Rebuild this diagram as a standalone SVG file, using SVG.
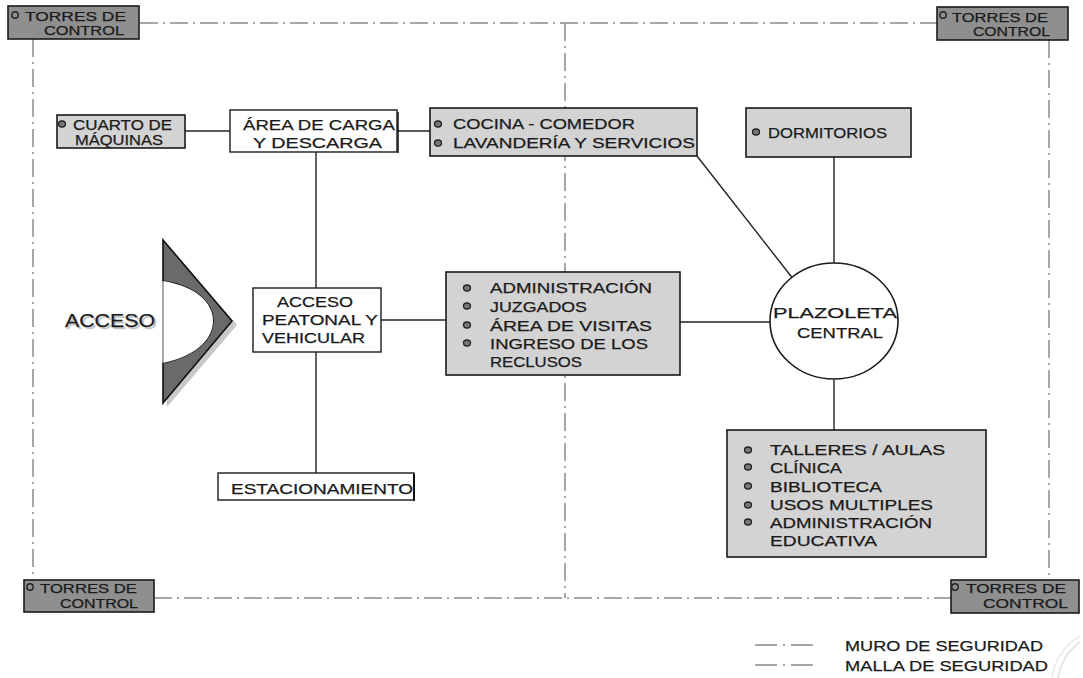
<svg xmlns="http://www.w3.org/2000/svg" width="1083" height="678" viewBox="0 0 1083 678">
  <defs>
    <style>
      text { font-family: "Liberation Sans", Arial, sans-serif; fill: #1a1a1a; stroke: #1a1a1a; stroke-width: 0.25; }
      .t16 { font-size: 15.5px; }
      .t14 { font-size: 14.5px; }
      .tw { font-size: 12.5px; }
      .box { fill: #d3d3d3; stroke: #1a1a1a; stroke-width: 1.6; }
      .wbox { fill: #ffffff; stroke: #1a1a1a; stroke-width: 1.4; }
      .tower { fill: #8f8f8f; stroke: #1a1a1a; stroke-width: 1.6; }
      .bul { fill: #777; stroke: #222; stroke-width: 1.3; }
      .tbul { fill: none; stroke: #222; stroke-width: 1.4; }
      .link { stroke: #222; stroke-width: 1.4; fill: none; }
      .wall { stroke: #8a8a8a; stroke-width: 1.5; fill: none; stroke-dasharray: 18 5 2 5; }
      .key { stroke: #888; stroke-width: 1.3; stroke-dasharray: 22 6 2 6 22; }
    </style>
  </defs>

  <rect width="1083" height="678" fill="#ffffff"/>

  <!-- security perimeter and central division -->
  <g id="perimeter">
    <line class="wall" x1="140" y1="23" x2="937" y2="23"/>
    <line class="wall" x1="33" y1="39" x2="33" y2="580"/>
    <line class="wall" x1="1049" y1="40" x2="1049" y2="580"/>
    <line class="wall" x1="154" y1="598" x2="951" y2="598"/>
    <line class="wall" x1="565" y1="23" x2="565" y2="598"/>
  </g>

  <!-- connectors -->
  <g id="connectors">
    <line class="link" x1="185" y1="131" x2="230" y2="131"/>
    <line class="link" x1="397" y1="131" x2="430" y2="131"/>
    <line class="link" x1="316" y1="152" x2="316" y2="288"/>
    <line class="link" x1="316" y1="352" x2="316" y2="473"/>
    <line class="link" x1="381" y1="320" x2="446" y2="320"/>
    <line class="link" x1="680" y1="322" x2="770" y2="322"/>
    <line class="link" x1="697" y1="156" x2="794" y2="280"/>
    <line class="link" x1="834" y1="157" x2="834" y2="263"/>
    <line class="link" x1="834" y1="380" x2="834" y2="430"/>
  </g>

  <!-- watch towers -->
  <g id="torre-no">
    <rect class="tower" x="8" y="6" width="131" height="33"/>
    <circle class="tbul" cx="15" cy="15" r="3.2"/>
    <text class="tw" x="25" y="21" textLength="101" lengthAdjust="spacingAndGlyphs">TORRES DE</text>
    <text class="tw" x="44" y="35" textLength="80" lengthAdjust="spacingAndGlyphs">CONTROL</text>
  </g>
  <g id="torre-ne">
    <rect class="tower" x="937" y="7" width="131" height="33"/>
    <circle class="tbul" cx="943" cy="15" r="3.2"/>
    <text class="tw" x="952" y="22" textLength="96" lengthAdjust="spacingAndGlyphs">TORRES DE</text>
    <text class="tw" x="973" y="36" textLength="77" lengthAdjust="spacingAndGlyphs">CONTROL</text>
  </g>
  <g id="torre-so">
    <rect class="tower" x="24" y="580" width="130" height="32"/>
    <circle class="tbul" cx="30" cy="587" r="3.2"/>
    <text class="tw" x="40" y="593" textLength="97" lengthAdjust="spacingAndGlyphs">TORRES DE</text>
    <text class="tw" x="60" y="608" textLength="78" lengthAdjust="spacingAndGlyphs">CONTROL</text>
  </g>
  <g id="torre-se">
    <rect class="tower" x="951" y="580" width="128" height="33"/>
    <circle class="tbul" cx="955" cy="587" r="3.2"/>
    <text class="tw" x="966" y="593" textLength="100" lengthAdjust="spacingAndGlyphs">TORRES DE</text>
    <text class="tw" x="983" y="608" textLength="85" lengthAdjust="spacingAndGlyphs">CONTROL</text>
  </g>

  <!-- machine room -->
  <g id="cuarto-maquinas">
    <rect class="box" x="57" y="115" width="128" height="33"/>
    <ellipse class="bul" cx="62" cy="124" rx="3.5" ry="3"/>
    <text class="t14" x="73" y="130" textLength="99" lengthAdjust="spacingAndGlyphs">CUARTO DE</text>
    <text class="t14" x="75" y="145" textLength="88" lengthAdjust="spacingAndGlyphs">MÁQUINAS</text>
  </g>

  <!-- loading area -->
  <g id="area-carga">
    <rect class="wbox" x="230" y="110" width="167" height="42"/>
    <line x1="398" y1="112" x2="398" y2="153" stroke="#111" stroke-width="1.5"/>
    <text class="t16" x="243" y="130" textLength="152" lengthAdjust="spacingAndGlyphs">ÁREA DE CARGA</text>
    <text class="t16" x="253" y="148" textLength="129" lengthAdjust="spacingAndGlyphs">Y DESCARGA</text>
  </g>

  <!-- kitchen / laundry -->
  <g id="cocina">
    <rect class="box" x="430" y="108" width="267" height="48"/>
    <ellipse class="bul" cx="438" cy="124" rx="3.5" ry="3"/>
    <ellipse class="bul" cx="438" cy="143" rx="3.5" ry="3"/>
    <text class="t16" x="453" y="129" textLength="182" lengthAdjust="spacingAndGlyphs">COCINA - COMEDOR</text>
    <text class="t16" x="453" y="148" textLength="242" lengthAdjust="spacingAndGlyphs">LAVANDERÍA Y SERVICIOS</text>
  </g>

  <!-- dormitories -->
  <g id="dormitorios">
    <rect class="box" x="746" y="108" width="165" height="49"/>
    <ellipse class="bul" cx="756" cy="132" rx="3.5" ry="3"/>
    <text class="t16" x="768" y="138" textLength="119" lengthAdjust="spacingAndGlyphs">DORMITORIOS</text>
  </g>

  <!-- entrance symbol -->
  <g id="acceso">
    <path d="M 167 244 L 237 325 L 167 407 Z" fill="#c8c8c8"/>
    <path d="M 163 240 L 232 321 L 163 403 L 163 363 C 195 356 213 340 213 321 C 213 302 195 286 163 281 Z" fill="#6a6a6a" stroke="#111" stroke-width="1.6" stroke-linejoin="miter"/>
    <path d="M 163 281 C 195 286 213 302 213 321 C 213 340 195 356 163 363 Z" fill="#ffffff"/>
    <line x1="163" y1="281" x2="163" y2="363" stroke="#555" stroke-width="1"/>
    <text x="67" y="329" font-size="18.5px" style="fill:#c4c4c4;stroke:#c4c4c4" textLength="90" lengthAdjust="spacingAndGlyphs">ACCESO</text>
    <text x="65" y="327" font-size="18.5px" textLength="90" lengthAdjust="spacingAndGlyphs">ACCESO</text>
  </g>

  <!-- pedestrian / vehicle access -->
  <g id="acceso-peatonal">
    <rect class="wbox" x="253" y="288" width="128" height="64"/>
    <text class="t16" x="277" y="307" textLength="76" lengthAdjust="spacingAndGlyphs">ACCESO</text>
    <text class="t16" x="262" y="325" textLength="116" lengthAdjust="spacingAndGlyphs">PEATONAL Y</text>
    <text class="t16" x="262" y="343" textLength="103" lengthAdjust="spacingAndGlyphs">VEHICULAR</text>
  </g>

  <!-- parking -->
  <g id="estacionamiento">
    <rect class="wbox" x="218" y="473" width="196" height="27"/>
    <line x1="414" y1="474" x2="414" y2="501" stroke="#111" stroke-width="2"/>
    <text class="t16" x="231" y="494" textLength="182" lengthAdjust="spacingAndGlyphs">ESTACIONAMIENTO</text>
  </g>

  <!-- administration -->
  <g id="administracion">
    <rect class="box" x="446" y="272" width="234" height="103"/>
    <ellipse class="bul" cx="467" cy="288" rx="3.5" ry="3"/>
    <ellipse class="bul" cx="467" cy="306" rx="3.5" ry="3"/>
    <ellipse class="bul" cx="467" cy="325" rx="3.5" ry="3"/>
    <ellipse class="bul" cx="467" cy="343" rx="3.5" ry="3"/>
    <text class="t16" x="490" y="293" textLength="162" lengthAdjust="spacingAndGlyphs">ADMINISTRACIÓN</text>
    <text class="t16" x="490" y="312" textLength="97" lengthAdjust="spacingAndGlyphs">JUZGADOS</text>
    <text class="t16" x="490" y="331" textLength="162" lengthAdjust="spacingAndGlyphs">ÁREA DE VISITAS</text>
    <text class="t16" x="490" y="349" textLength="158" lengthAdjust="spacingAndGlyphs">INGRESO DE LOS</text>
    <text class="t16" x="490" y="367" textLength="92" lengthAdjust="spacingAndGlyphs">RECLUSOS</text>
  </g>

  <!-- central plaza -->
  <g id="plazoleta">
    <ellipse cx="834" cy="321" rx="64" ry="58" fill="#ffffff" stroke="#1a1a1a" stroke-width="1.6"/>
    <text class="t16" x="773" y="318" textLength="124" lengthAdjust="spacingAndGlyphs">PLAZOLETA</text>
    <text class="t16" x="797" y="338" textLength="86" lengthAdjust="spacingAndGlyphs">CENTRAL</text>
  </g>

  <!-- workshops / classrooms -->
  <g id="talleres">
    <rect class="box" x="727" y="430" width="259" height="127"/>
    <ellipse class="bul" cx="748" cy="450" rx="3.5" ry="3"/>
    <ellipse class="bul" cx="748" cy="467" rx="3.5" ry="3"/>
    <ellipse class="bul" cx="748" cy="486" rx="3.5" ry="3"/>
    <ellipse class="bul" cx="748" cy="505" rx="3.5" ry="3"/>
    <ellipse class="bul" cx="748" cy="522" rx="3.5" ry="3"/>
    <text class="t16" x="770" y="455" textLength="175" lengthAdjust="spacingAndGlyphs">TALLERES / AULAS</text>
    <text class="t16" x="770" y="473" textLength="72" lengthAdjust="spacingAndGlyphs">CLÍNICA</text>
    <text class="t16" x="770" y="492" textLength="112" lengthAdjust="spacingAndGlyphs">BIBLIOTECA</text>
    <text class="t16" x="770" y="510" textLength="163" lengthAdjust="spacingAndGlyphs">USOS MULTIPLES</text>
    <text class="t16" x="770" y="528" textLength="162" lengthAdjust="spacingAndGlyphs">ADMINISTRACIÓN</text>
    <text class="t16" x="770" y="546" textLength="107" lengthAdjust="spacingAndGlyphs">EDUCATIVA</text>
  </g>

  <!-- legend -->
  <g id="leyenda">
    <line class="key" x1="755" y1="645" x2="813" y2="645"/>
    <line class="key" x1="755" y1="665" x2="813" y2="665"/>
    <text class="t16" x="845" y="651" textLength="198" lengthAdjust="spacingAndGlyphs">MURO DE SEGURIDAD</text>
    <text class="t16" x="845" y="671" textLength="203" lengthAdjust="spacingAndGlyphs">MALLA DE SEGURIDAD</text>
    <path d="M 1058 678 Q 1062 655 1080 642" fill="none" stroke="#ddd" stroke-width="1.5"/>
    <path d="M 1052 678 Q 1056 650 1080 636" fill="none" stroke="#e6e6e6" stroke-width="1.2"/>
  </g>
</svg>
